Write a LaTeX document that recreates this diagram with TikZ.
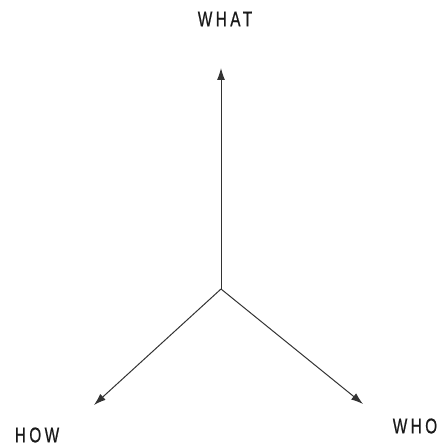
\documentclass[tikz,border=0pt]{standalone}
\usepackage{fontspec}
\setmainfont{Liberation Sans}[FakeStretch=0.72,LetterSpace=16,FakeBold=0.6]
\usepackage{tikz}
\usetikzlibrary{arrows.meta}

\begin{document}
\begin{tikzpicture}[x=0.75pt,y=-0.75pt,
  axis/.style={draw=black!80, line width=0.75pt, -{Latex[length=9pt,width=6pt]}},
  lbl/.style={font=\fontsize{16}{18}\selectfont, text=black!90, inner sep=0pt}]
\useasboundingbox (0,0) rectangle (438,448);
% centre and arrow tips
\coordinate (o) at (221,289);
\coordinate (up) at (221,68);
\coordinate (left) at (94,405);
\coordinate (right) at (363,404);
\draw[axis] (o) -- (up);
\draw[axis] (o) -- (left);
\draw[axis] (o) -- (right);
% labels
\node[lbl] (what) at (225,19) {WHAT};
\node[lbl] (how) at (37,435) {HOW};
\node[lbl] (who) at (415,426) {WHO};
\end{tikzpicture}
\end{document}
